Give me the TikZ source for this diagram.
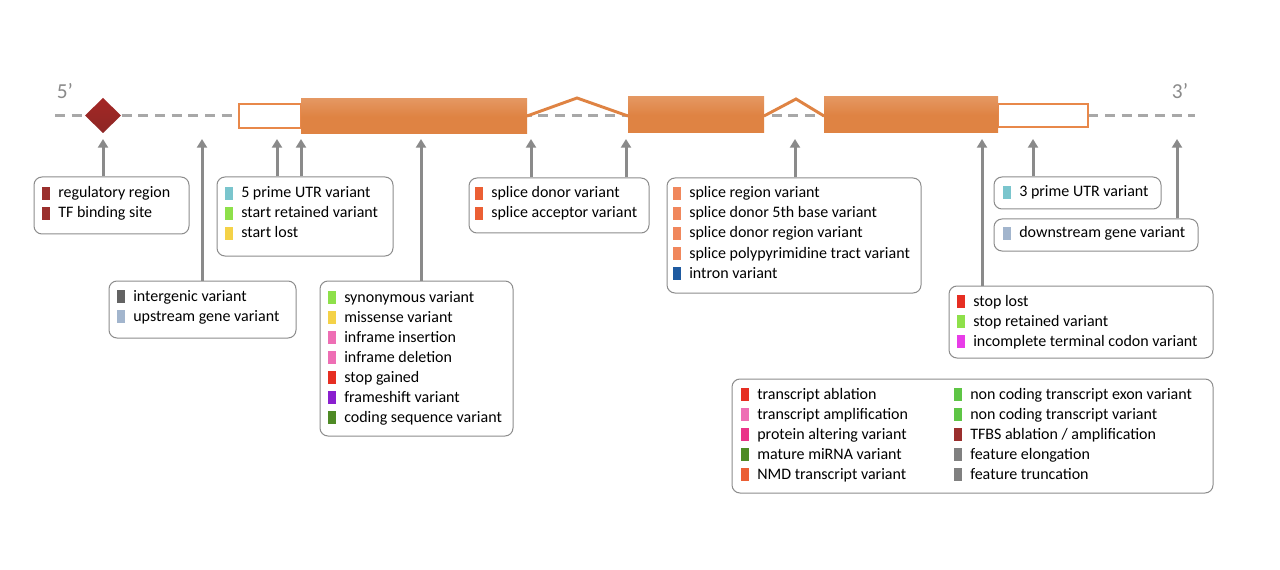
\documentclass[tikz,border=0pt]{standalone}
\usepackage{fontspec}
\setmainfont{Carlito}
\usetikzlibrary{arrows.meta,fit}
\definecolor{exbot}{HTML}{DF8343}
\definecolor{extop}{HTML}{EAAB80}
\definecolor{utrline}{HTML}{E8884A}
\definecolor{dashgray}{HTML}{A8A8A8}
\definecolor{arrgray}{HTML}{8A8A8A}
\definecolor{boxgray}{HTML}{8C8C8C}
\definecolor{primegray}{HTML}{8A8A8A}
\definecolor{cReg}{HTML}{9A2F2D}
\definecolor{cUTR}{HTML}{7AC5CD}
\definecolor{cLgreen}{HTML}{8EE04A}
\definecolor{cYellow}{HTML}{F4D248}
\definecolor{cInter}{HTML}{636363}
\definecolor{cUp}{HTML}{A2B5CD}
\definecolor{cPink}{HTML}{EE6EB4}
\definecolor{cRed}{HTML}{E62E22}
\definecolor{cPurple}{HTML}{8A1FCF}
\definecolor{cDgreen}{HTML}{4E8A25}
\definecolor{cSplice}{HTML}{EB5F34}
\definecolor{cSreg}{HTML}{F0875C}
\definecolor{cIntron}{HTML}{1E5AA0}
\definecolor{cMagenta}{HTML}{E83CE8}
\definecolor{cDeep}{HTML}{EA3388}
\definecolor{cMgreen}{HTML}{5EC545}
\definecolor{cFeat}{HTML}{808080}
\pgfdeclareverticalshading{exonshade}{100bp}{color(0bp)=(exbot); color(50bp)=(exbot); color(100bp)=(extop)}
\pgfdeclareverticalshading{diashade}{100bp}{color(0bp)=(cReg!85!black); color(100bp)=(cReg!80!red)}
\newcommand\lrow[5]{\fill[#4] (#2,#3-6) rectangle ++(8,13); \node[lab] (#1) at (#2+16,#3+5) {#5};}
\begin{document}
\begin{tikzpicture}[x=0.75pt,y=-0.75pt,
  lab/.style={anchor=base west, inner sep=0pt, font=\fontsize{12}{14}\selectfont},
  legbox/.style={draw=boxgray, line width=0.75pt, rounded corners=6pt, inner sep=0pt, fill=white},
  arr/.style={draw=arrgray, line width=2.25pt, -{Triangle[width=7.5pt,length=6.5pt]}},
  exon/.style={shading=exonshade, draw=none},
  utr/.style={draw=utrline, line width=1pt, fill=white},
  hat/.style={draw=exbot, line width=2.2pt, line join=miter},
  prime/.style={text=primegray, font=\fontsize{16}{18}\selectfont, inner sep=0pt}]
\fill[white] (0,0) rectangle (1280,570);
\useasboundingbox (0,0) rectangle (1280,570);
% backbone
\draw[dashgray, line width=2.25pt, dash pattern=on 7.5pt off 5pt] (55,116) -- (1195,116);
\node[prime] (five) at (65,91) {5’};
\node[prime] (three) at (1180,91) {3’};
% diamond
\path[shading=diashade] (103,98) -- (121,115.5) -- (103,133) -- (85,115.5) -- cycle;
\node[inner sep=0pt, minimum size=0pt] (dia) at (103,115.5) {};
% gene
\draw[hat] (527,116) -- (577,98) -- (628,116);
\draw[hat] (764,116) -- (796,99) -- (824,116);
\draw[utr] (239,104) rectangle (301,128);
\draw[utr] (998,104) rectangle (1088,127);
\path[exon] (301,99) rectangle (527,134);
\path[exon] (628,97) rectangle (764,133);
\path[exon] (824,97) rectangle (998,133);
% boxes
\node[legbox, fit={(34,177) (189,234)}] (bA) {};
\node[legbox, fit={(217,177) (393,256)}] (bB) {};
\node[legbox, fit={(109,281) (296,338)}] (bC) {};
\node[legbox, fit={(320,281) (513,436)}] (bD) {};
\node[legbox, fit={(469,178) (649,233)}] (bE) {};
\node[legbox, fit={(667,178) (921,293)}] (bF) {};
\node[legbox, fit={(994,177) (1161,209)}] (bG) {};
\node[legbox, fit={(994,219) (1198,251)}] (bH) {};
\node[legbox, fit={(949,286) (1213,358)}] (bI) {};
\node[legbox, fit={(732,379) (1213,493)}] (bJ) {};
% arrow tips
\coordinate (t1) at (103,139);
\coordinate (t2) at (202,139);
\coordinate (t3) at (277,139);
\coordinate (t4) at (301,139);
\coordinate (t5) at (421,139);
\coordinate (t6) at (531,139);
\coordinate (t7) at (626,139);
\coordinate (t8) at (795,139);
\coordinate (t9) at (982,139);
\coordinate (t10) at (1033,139);
\coordinate (t11) at (1177,139);
\draw[arr] (bA.north -| t1) -- (t1);
\draw[arr] (bC.north -| t2) -- (t2);
\draw[arr] (bB.north -| t3) -- (t3);
\draw[arr] (bB.north -| t4) -- (t4);
\draw[arr] (bD.north -| t5) -- (t5);
\draw[arr] (bE.north -| t6) -- (t6);
\draw[arr] (bE.north -| t7) -- (t7);
\draw[arr] (bF.north -| t8) -- (t8);
\draw[arr] (bI.north -| t9) -- (t9);
\draw[arr] (bG.north -| t10) -- (t10);
\draw[arr] (bH.north -| t11) -- (t11);
% rows
\lrow{a1}{42}{193}{cReg}{regulatory region}
\lrow{a2}{42}{213}{cReg}{TF binding site}
\lrow{b1}{225}{193}{cUTR}{5 prime UTR variant}
\lrow{b2}{225}{213}{cLgreen}{start retained variant}
\lrow{b3}{225}{233}{cYellow}{start lost}
\lrow{c1}{117}{296}{cInter}{intergenic variant}
\lrow{c2}{117}{316}{cUp}{upstream gene variant}
\lrow{d1}{328}{297}{cLgreen}{synonymous variant}
\lrow{d2}{328}{317}{cYellow}{missense variant}
\lrow{d3}{328}{337}{cPink}{inframe insertion}
\lrow{d4}{328}{357}{cPink}{inframe deletion}
\lrow{d5}{328}{377}{cRed}{stop gained}
\lrow{d6}{328}{397}{cPurple}{frameshift variant}
\lrow{d7}{328}{417}{cDgreen}{coding sequence variant}
\lrow{e1}{475}{193}{cSplice}{splice donor variant}
\lrow{e2}{475}{213}{cSplice}{splice acceptor variant}
\lrow{f1}{673}{193}{cSreg}{splice region variant}
\lrow{f2}{673}{213}{cSreg}{splice donor 5th base variant}
\lrow{f3}{673}{233}{cSreg}{splice donor region variant}
\lrow{f4}{673}{253}{cSreg}{splice polypyrimidine tract variant}
\lrow{f5}{673}{273}{cIntron}{intron variant}
\lrow{g1}{1003}{192}{cUTR}{3 prime UTR variant}
\lrow{h1}{1003}{233}{cUp}{downstream gene variant}
\lrow{i1}{957}{301}{cRed}{stop lost}
\lrow{i2}{957}{321}{cLgreen}{stop retained variant}
\lrow{i3}{957}{341}{cMagenta}{incomplete terminal codon variant}
\lrow{j1}{741}{394}{cRed}{transcript ablation}
\lrow{j2}{741}{414}{cPink}{transcript amplification}
\lrow{j3}{741}{434}{cDeep}{protein altering variant}
\lrow{j4}{741}{454}{cDgreen}{mature miRNA variant}
\lrow{j5}{741}{474}{cSplice}{NMD transcript variant}
\lrow{k1}{954}{394}{cMgreen}{non coding transcript exon variant}
\lrow{k2}{954}{414}{cMgreen}{non coding transcript variant}
\lrow{k3}{954}{434}{cReg}{TFBS ablation / amplification}
\lrow{k4}{954}{454}{cFeat}{feature elongation}
\lrow{k5}{954}{474}{cFeat}{feature truncation}
\end{tikzpicture}
\end{document}
